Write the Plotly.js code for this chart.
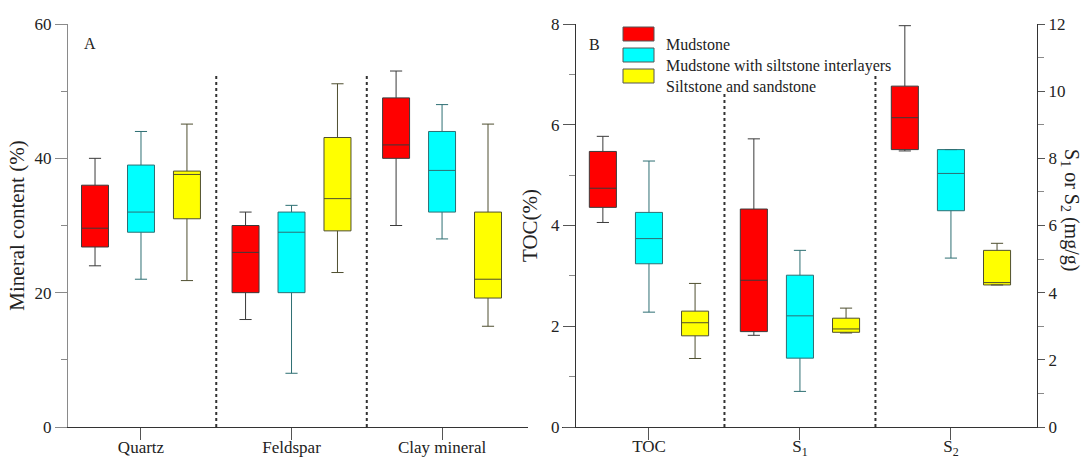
<!DOCTYPE html>
<html>
<head>
<meta charset="utf-8">
<script src="https://cdn.plot.ly/plotly-3.0.1.min.js"></script>
<style>html,body{margin:0;padding:0;background:#fff}#chart{width:1082px;height:459px}</style>
</head>
<body>
<div id="chart"></div>
<script>
// ---------- data ----------
const seriesNames = ['Mudstone', 'Mudstone with siltstone interlayers', 'Siltstone and sandstone'];
const mineralCategories = ['Quartz', 'Feldspar', 'Clay mineral'];
const tocCategories = ['TOC'];
const sCategories = ['S<sub>1</sub>', 'S<sub>2</sub>'];

// mineral content (%), per series: [Quartz, Feldspar, Clay mineral]
const mineralLower  = [[24.0, 16.0, 30.0], [22.0,  8.0, 28.0], [21.8, 23.0, 15.0]];
const mineralQ1     = [[26.8, 20.0, 40.0], [29.0, 20.0, 32.0], [31.0, 29.2, 19.2]];
const mineralMedian = [[29.6, 26.0, 42.0], [32.0, 29.0, 38.2], [37.6, 34.0, 22.0]];
const mineralQ3     = [[36.0, 30.0, 49.0], [39.0, 32.0, 44.0], [38.1, 43.1, 32.0]];
const mineralUpper  = [[40.0, 32.0, 53.0], [44.0, 33.0, 48.0], [45.1, 51.1, 45.1]];

// TOC (%), per series
const tocLower  = [4.06, 2.28, 1.36];
const tocQ1     = [4.36, 3.24, 1.81];
const tocMedian = [4.74, 3.74, 2.07];
const tocQ3     = [5.47, 4.26, 2.30];
const tocUpper  = [5.77, 5.28, 2.85];

// S1 and S2 (mg/g), per series: [S1, S2]
const sLower  = [[2.73, 8.22], [1.06, 5.03], [2.80, 4.23]];
const sQ1     = [[2.84, 8.26], [2.05, 6.44], [2.82, 4.23]];
const sMedian = [[4.37, 9.21], [3.31, 7.55], [2.92, 4.30]];
const sQ3     = [[6.49, 10.15], [4.52, 8.26], [3.24, 5.26]];
const sUpper  = [[8.58, 11.95], [5.26, 8.26], [3.54, 5.47]];

// ---------- styles ----------
const FONT = 'Liberation Serif, Times New Roman, serif';
const fills = ['#FF0000', '#00FFFF', '#FFFF00'];
const lines = ['#3a3a3a', '#2e6f73', '#4f4f30'];
const W = 1082, H = 459;
const px = v => v / W, py = v => 1 - v / H;

const traces = [];
seriesNames.forEach((name, s) => {
  const common = {
    type: 'box', name: name, fillcolor: fills[s],
    line: {color: lines[s], width: 1}, whiskerwidth: 0.45,
    boxpoints: false, showlegend: false, hoverinfo: 'skip',
    offsetgroup: 'g' + s
  };
  traces.push(Object.assign({}, common, {
    x: mineralCategories, lowerfence: mineralLower[s], q1: mineralQ1[s],
    median: mineralMedian[s], q3: mineralQ3[s], upperfence: mineralUpper[s],
    xaxis: 'x', yaxis: 'y', alignmentgroup: 'A'
  }));
  traces.push(Object.assign({}, common, {
    x: tocCategories, lowerfence: [tocLower[s]], q1: [tocQ1[s]],
    median: [tocMedian[s]], q3: [tocQ3[s]], upperfence: [tocUpper[s]],
    xaxis: 'x2', yaxis: 'y2', alignmentgroup: 'B'
  }));
  traces.push(Object.assign({}, common, {
    x: sCategories, lowerfence: sLower[s], q1: sQ1[s],
    median: sMedian[s], q3: sQ3[s], upperfence: sUpper[s],
    xaxis: 'x2', yaxis: 'y3', alignmentgroup: 'B'
  }));
});

const yDom = [1 - 427 / H, 1 - 24 / H];
const dark = '#333333', grey = '#8a8a8a';

const shapes = [
  {type: 'line', xref: 'x', yref: 'y', x0: 0.5, x1: 0.5, y0: 0, y1: 52.4},
  {type: 'line', xref: 'x', yref: 'y', x0: 1.5, x1: 1.5, y0: 0, y1: 52.4},
  {type: 'line', xref: 'x2', yref: 'y2', x0: 0.5, x1: 0.5, y0: 0, y1: 6.63},
  {type: 'line', xref: 'x2', yref: 'y2', x0: 1.5, x1: 1.5, y0: 0, y1: 7.0}
].map(s => Object.assign(s, {line: {color: dark, width: 2, dash: 'dot'}, layer: 'below'}));

const annotations = [
  {text: 'A', x: px(90), y: py(33), xanchor: 'center'},
  {text: 'B', x: px(594), y: py(34), xanchor: 'center'},
  {text: 'S<sub>1</sub> or S<sub>2</sub> (mg/g)', x: px(1070), y: py(210), xanchor: 'center',
   textangle: 90, font: {size: 20, family: FONT, color: '#222'}}
].map(a => Object.assign({xref: 'paper', yref: 'paper', showarrow: false, font: {size: 16, family: FONT, color: '#222'}}, a));

// legend drawn from the series names/colours
seriesNames.forEach((name, s) => {
  const top = 27 + s * 21;
  shapes.push({type: 'rect', xref: 'paper', yref: 'paper', x0: px(623), x1: px(654), y0: py(top + 14), y1: py(top),
               fillcolor: fills[s], line: {color: '#555', width: 1}});
  annotations.push({text: name, xref: 'paper', yref: 'paper', x: px(664), y: py(top + 7), xanchor: 'left',
                    showarrow: false, font: {size: 16, family: FONT, color: '#222'}});
});

const tickFont = {size: 17, family: FONT, color: '#222'};
const catFont = {size: 17, family: FONT, color: '#222'};
const layout = {
  width: W, height: H,
  margin: {l: 0, r: 0, t: 0, b: 0},
  paper_bgcolor: '#fff', plot_bgcolor: 'rgba(0,0,0,0)',
  font: {family: FONT, color: '#222'},
  boxmode: 'group', boxgap: 0.084, boxgroupgap: 0.413,
  showlegend: false,
  xaxis: {
    domain: [px(60), px(528)], anchor: 'y', type: 'category',
    categoryorder: 'array', categoryarray: mineralCategories,
    range: [-0.538, 2.571], showline: true, linecolor: dark, linewidth: 1,
    ticks: 'outside', ticklen: 12, tickcolor: '#555', tickfont: catFont, ticklabelstandoff: -7,
    showgrid: false, zeroline: false, fixedrange: true
  },
  yaxis: {
    domain: yDom, anchor: 'free', position: px(67), range: [0, 60], tick0: 0, dtick: 20,
    showline: true, linecolor: grey, linewidth: 1, ticks: 'outside', ticklen: 12, tickcolor: grey,
    tickfont: tickFont, showgrid: false, zeroline: false,
    minor: {ticks: 'outside', dtick: 10, ticklen: 6, tickcolor: grey},
    title: {text: 'Mineral content (%)', font: {size: 21, family: FONT, color: '#222'}, standoff: 3}
  },
  xaxis2: {
    domain: [px(562), px(1037)], anchor: 'y2', type: 'category',
    categoryorder: 'array', categoryarray: tocCategories.concat(sCategories),
    range: [-0.576, 2.570], showline: true, linecolor: dark, linewidth: 1,
    ticks: 'outside', ticklen: 12, tickcolor: '#555', tickfont: catFont, ticklabelstandoff: -8,
    showgrid: false, zeroline: false, fixedrange: true
  },
  yaxis2: {
    domain: yDom, anchor: 'free', position: px(575), range: [0, 8], tick0: 0, dtick: 2,
    showline: true, linecolor: dark, linewidth: 1, ticks: 'outside', ticklen: 12, tickcolor: '#555',
    tickfont: tickFont, showgrid: false, zeroline: false,
    minor: {ticks: 'outside', dtick: 1, ticklen: 6, tickcolor: grey},
    title: {text: 'TOC(%)', font: {size: 21, family: FONT, color: '#222'}, standoff: 6}
  },
  yaxis3: {
    overlaying: 'y2', side: 'right', anchor: 'x2', range: [0, 12], tick0: 0, dtick: 2,
    showline: true, linecolor: dark, linewidth: 1, ticks: 'outside', ticklen: 7, tickcolor: '#555',
    tickfont: tickFont, showgrid: false, zeroline: false,
    minor: {ticks: 'outside', dtick: 1, ticklen: 6, tickcolor: grey}
  },
  shapes: shapes,
  annotations: annotations
};

Plotly.newPlot('chart', traces, layout, {staticPlot: true, displayModeBar: false});
</script>
</body>
</html>
